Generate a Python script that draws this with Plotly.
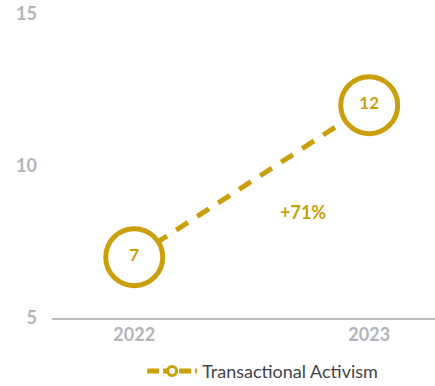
import plotly.graph_objects as go

years = ["2022", "2023"]
values = [7, 12]
value_labels = ["7", "12"]
series_name = "Transactional Activism"
change_label = "+71%"

gold = "#C9A00C"
gray = "#B4B4BA"

fig = go.Figure()
fig.add_trace(go.Scatter(
    x=years, y=values, mode="lines+markers+text",
    text=value_labels, textposition="middle center",
    textfont=dict(family="Lato", size=17, color=gold, weight="bold"),
    line=dict(color=gold, width=5, dash="14px,11px"),
    marker=dict(size=57, color="white", line=dict(color=gold, width=5)),
    showlegend=False, cliponaxis=False,
))
fig.add_trace(go.Scatter(
    x=[None], y=[None], mode="lines+markers", name=series_name,
    line=dict(color=gold, width=5, dash="12px,4px"),
    marker=dict(size=9, color="white", line=dict(color=gold, width=3)),
))
fig.add_annotation(x=0.72, y=8.5, xref="x", yref="y", text=change_label,
                   showarrow=False,
                   font=dict(family="Lato", size=18, color=gold, weight="bold"))

fig.update_layout(
    width=435, height=386,
    margin=dict(l=52, r=0, t=14, b=68, autoexpand=False),
    paper_bgcolor="white", plot_bgcolor="white",
    font=dict(family="Lato", color=gray),
    xaxis=dict(type="category", range=[-0.35, 1.28], showgrid=False,
               showline=True, linecolor="#BDBDC2", linewidth=1.5,
               ticks="", tickfont=dict(size=18, color=gray, weight="bold")),
    yaxis=dict(range=[5, 15], tickvals=[5, 10, 15], showgrid=False,
               zeroline=False, showline=False, ticks="",
               ticklabelstandoff=14,
               tickfont=dict(size=18, color=gray, weight="bold")),
    legend=dict(orientation="h", x=0.55, xanchor="center", y=-0.175,
                yanchor="middle", font=dict(size=18, color="#444448"),
                itemwidth=50),
    showlegend=True,
)

fig.write_html("out.html")
